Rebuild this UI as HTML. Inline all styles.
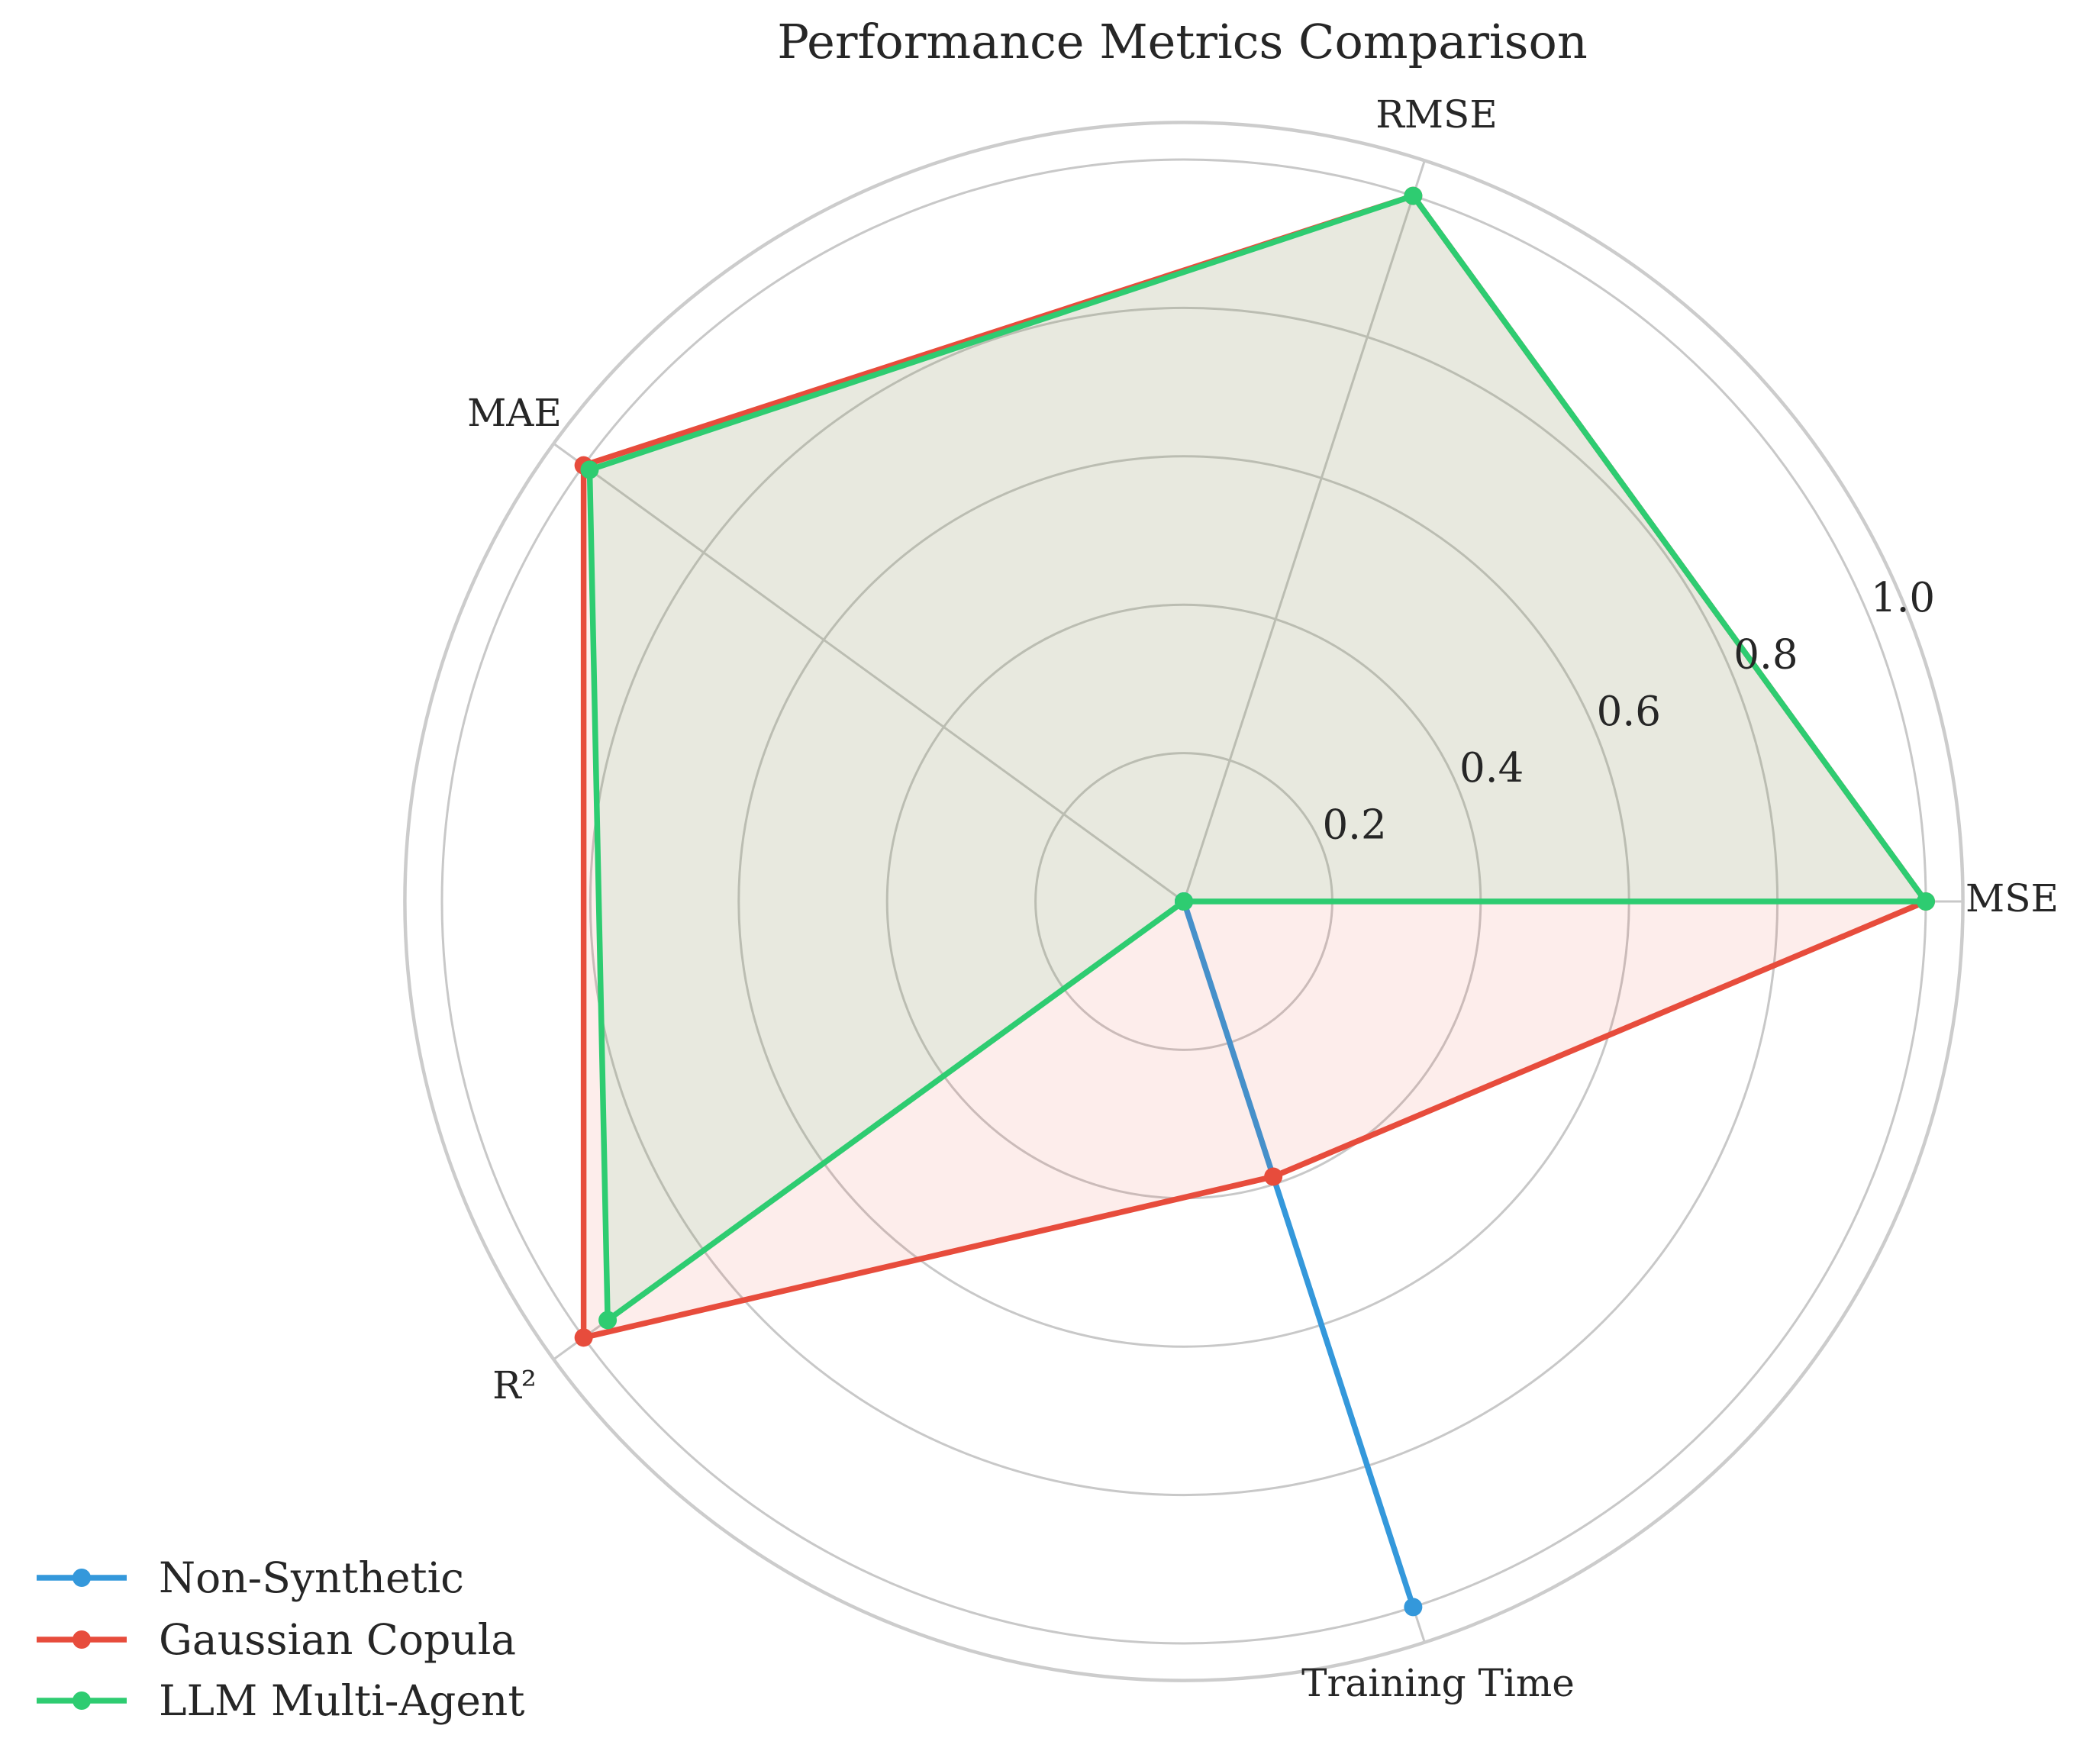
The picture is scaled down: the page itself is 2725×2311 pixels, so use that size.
<!DOCTYPE html>
<html><head><meta charset="utf-8"><style>
html,body{margin:0;padding:0;background:#fff}
svg{display:block}
text{font-family:"DejaVu Serif","Liberation Serif",serif;fill:#262626}
</style></head><body>
<svg id="chart" xmlns="http://www.w3.org/2000/svg" width="2725" height="2311" viewBox="0 0 2725 2311">
<rect width="2725" height="2311" fill="#fff"/>
<text x="1549" y="76" font-size="62" text-anchor="middle">Performance Metrics Comparison</text>
<g id="grid"></g>
<g id="series"></g>
<g id="labels"></g>
<g id="legend"></g>
</svg>
<script>
const categories = ["MSE", "RMSE", "MAE", "R²", "Training Time"];
const seriesNames = ["Non-Synthetic", "Gaussian Copula", "LLM Multi-Agent"];
const nonSynthetic = [0, 0, 0, 0, 1.0];
const gaussianCopula = [1.0, 1.0, 1.0, 1.0, 0.39];
const llmMultiAgent = [1.0, 1.0, 0.99, 0.96, 0];
const tickValues = [0.2, 0.4, 0.6, 0.8, 1.0];
const tickLabels = ["0.2", "0.4", "0.6", "0.8", "1.0"];

const NS = "http://www.w3.org/2000/svg";
const cx = 1551, cy = 1181, scale = 972, rMax = 1.05;
const colors = ["#3498db", "#e74c3c", "#2ecc71"];
const allSeries = [nonSynthetic, gaussianCopula, llmMultiAgent];
function ang(i){ return i * 2 * Math.PI / categories.length; }
function px(v,i){ return cx + v*scale*Math.cos(ang(i)); }
function py(v,i){ return cy - v*scale*Math.sin(ang(i)); }
function mk(tag, attrs, parent){ const e=document.createElementNS(NS,tag); for(const k in attrs) e.setAttribute(k,attrs[k]); parent.appendChild(e); return e; }

const grid = document.getElementById('grid');
tickValues.forEach((t,k)=>{
  const c = mk('circle',{cx:cx,cy:cy,r:t*scale,fill:'none',stroke:'#c8c8c8','stroke-width':3},grid);
  
  
});
categories.forEach((c,i)=>{
  const l = mk('line',{x1:cx,y1:cy,x2:px(rMax,i),y2:py(rMax,i),stroke:'#c8c8c8','stroke-width':3},grid);
  
  
});
const spine = mk('circle',{cx:cx,cy:cy,r:rMax*scale,fill:'none',stroke:'#cccccc','stroke-width':4.5},grid);



const ser = document.getElementById('series');
allSeries.forEach((vals,s)=>{
  const pts = vals.map((v,i)=>px(v,i).toFixed(1)+','+py(v,i).toFixed(1));
  const fill = mk('polygon',{points:pts.join(' '),fill:colors[s],'fill-opacity':0.1,stroke:'none'},ser);
  
  
  const line = mk('polyline',{points:pts.concat([pts[0]]).join(' '),fill:'none',stroke:colors[s],'stroke-width':7.5,'stroke-linejoin':'round'},ser);
  
  
  vals.forEach((v,i)=>{
    const m = mk('circle',{cx:px(v,i),cy:py(v,i),r:12,fill:colors[s]},ser);
    
    
  });
});

const lab = document.getElementById('labels');
tickValues.forEach((t,k)=>{
  const a = 22.5*Math.PI/180;
  const tx = mk('text',{x:cx+t*scale*Math.cos(a)+44,y:cy-t*scale*Math.sin(a)-8,'font-size':53,'text-anchor':'middle'},lab);
  tx.textContent = tickLabels[k];
  
  
});
const catPos = [[2575,1194,'start'],[1882,167,'middle'],[674,558,'middle'],[674,1832,'middle'],[1884,2222,'middle']];
categories.forEach((c,i)=>{
  const tx = mk('text',{x:catPos[i][0],y:catPos[i][1],'font-size':50,'text-anchor':catPos[i][2]},lab);
  tx.textContent = c;
  
  
});

const leg = document.getElementById('legend');
const legY = [2067, 2148, 2228];
seriesNames.forEach((n,s)=>{
  const g = mk('g',{},leg);
  
  
  mk('line',{x1:48,y1:legY[s],x2:166,y2:legY[s],stroke:colors[s],'stroke-width':7.5},g);
  mk('circle',{cx:107,cy:legY[s],r:12,fill:colors[s]},g);
  const t = mk('text',{x:208,y:legY[s]+19,'font-size':55},g);
  t.textContent = n;
});
</script>
</body></html>
